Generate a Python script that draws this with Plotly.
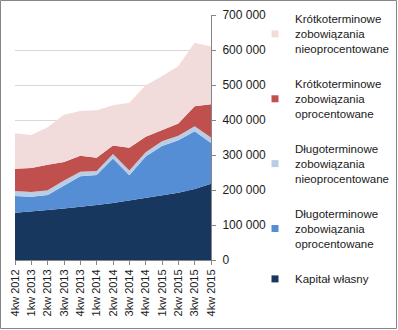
import plotly.graph_objects as go

quarters = ["4kw 2012", "1kw 2013", "2kw 2013", "3kw 2013", "4kw 2013", "1kw 2014",
            "2kw 2014", "3kw 2014", "4kw 2014", "1kw 2015", "2kw 2015", "3kw 2015", "4kw 2015"]

kapital_wlasny = [135000, 140000, 143000, 147000, 151000, 157000, 163000, 170000, 177000, 186000, 192000, 203000, 218000]
dlugo_oproc = [48000, 41000, 43000, 66000, 88000, 86000, 127000, 72000, 119000, 140000, 150000, 165000, 116000]
dlugo_nieoproc = [14000, 13000, 13000, 14000, 13000, 11000, 13000, 14000, 12000, 13000, 13000, 14000, 16000]
krotko_oproc = [64000, 69000, 73000, 53000, 46000, 38000, 24000, 65000, 44000, 31000, 35000, 57000, 95000]
krotko_nieoproc = [101000, 94000, 107000, 135000, 128000, 136000, 115000, 128000, 147000, 155000, 164000, 182000, 165000]

series = [
    ("Kapitał własny", kapital_wlasny, "#17375E"),
    ("Długoterminowe<br>zobowiązania<br>oprocentowane", dlugo_oproc, "#558ED5"),
    ("Długoterminowe<br>zobowiązania<br>nieoprocentowane", dlugo_nieoproc, "#B9CDE5"),
    ("Krótkoterminowe<br>zobowiązania<br>oprocentowane", krotko_oproc, "#C0504D"),
    ("Krótkoterminowe<br>zobowiązania<br>nieoprocentowane", krotko_nieoproc, "#F2DCDB"),
]

y_ticks = [0, 100000, 200000, 300000, 400000, 500000, 600000, 700000]

fig = go.Figure()
for name, vals, color in series:
    fig.add_trace(go.Scatter(
        x=quarters, y=vals, name=name, stackgroup="one", mode="lines",
        line=dict(width=0, color=color), fillcolor=color,
        showlegend=False, hoverinfo="skip",
    ))
# legend entries, top to bottom as in the reference
for i, (name, vals, color) in enumerate(reversed(series)):
    fig.add_trace(go.Scatter(
        x=[None], y=[None], name=name, mode="markers",
        marker=dict(symbol="square", size=7, color=color),
        legendgroup="g%d" % i, showlegend=True,
    ))

L, R, T, B = 15, 187, 15, 70
W, H = 398, 330
pw = W - L - R
ph = H - T - B

fig.update_layout(
    width=W, height=H,
    margin=dict(l=L, r=R, t=T, b=B, autoexpand=False),
    paper_bgcolor="white", plot_bgcolor="white",
    font=dict(family="Liberation Sans, Arial, sans-serif", size=11, color="#1a1a1a"),
    separators=", ",
    showlegend=True,
    legend=dict(
        x=(255 - L) / pw, xanchor="left",
        y=1 + 10 / ph, yanchor="top",
        traceorder="grouped", tracegroupgap=17,
        font=dict(size=11.5, color="#1a1a1a"),
        bgcolor="rgba(0,0,0,0)",
        maxheight=320,
        itemclick=False, itemdoubleclick=False,
    ),
    xaxis=dict(
        type="category", range=[0, len(quarters) - 1],
        showline=True, linecolor="#868686", linewidth=1,
        ticks="outside", ticklen=4, tickcolor="#868686",
        tickangle=-90, showgrid=False, zeroline=False,
        tickfont=dict(size=11, color="#1a1a1a"),
    ),
    yaxis=dict(
        side="right", range=[0, 700000], tickvals=y_ticks, tickformat=",d",
        showline=True, linecolor="#868686", linewidth=1,
        ticks="outside", ticklen=4, tickcolor="#868686",
        ticklabelstandoff=4,
        showgrid=True, gridcolor="#D9D9D9", gridwidth=1, zeroline=False,
        tickfont=dict(size=12, color="#1a1a1a"),
    ),
    shapes=[dict(
        type="rect", xref="paper", yref="paper",
        x0=(0.5 - L) / pw, x1=(W - 1.5 - L) / pw,
        y0=-(H - 1.5 - (H - B)) / ph, y1=1 + (T - 0.5) / ph,
        line=dict(color="#868686", width=1), layer="below",
    )],
)

fig.write_html("out.html")
